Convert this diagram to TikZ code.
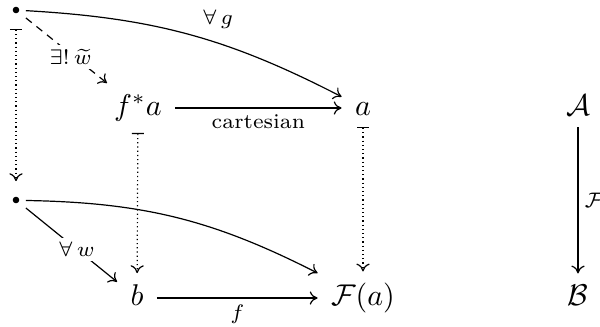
\documentclass[tikz,border=0pt]{standalone}
\usepackage{amsmath}
\usepackage{amssymb}
\usetikzlibrary{arrows.meta,cd}

\begin{document}
\begin{tikzpicture}[
    x=0.3333pt, y=-0.3333pt,
    obj/.style={shape=asymmetrical rectangle, inner xsep=1ex, inner ysep=0.85ex},
    dotnode/.style={fill, inner sep=0pt, minimum size=2.2pt, rounded corners=1.1pt, outer xsep=2.2pt, outer ysep=5.2pt},
    arr/.style={-{Computer Modern Rightarrow[width=4.4pt, length=2.6pt]}},
    mapsto/.style={{Bar[width=4pt]}-{Computer Modern Rightarrow[width=4.4pt, length=2.6pt]}, densely dotted},
    lbl/.style={font=\scriptsize, inner sep=2pt},
    desc/.style={lbl, fill=white, inner sep=1.5pt},
]
\useasboundingbox (0,0) rectangle (600,326);
% objects of the cube
\node[dotnode] (p) at (16,10) {};
\node[dotnode] (q) at (16,200) {};
\node[obj] (fa) at (138,108) {$f^*a$};
\node[obj] (a)  at (363,108) {$a$};
\node[obj] (b)  at (137,298) {$b$};
\node[obj] (Fa) at (363,298) {$\mathcal{F}(a)$};
% the functor
\node[obj] (A) at (578,108) {$\mathcal{A}$};
\node[obj] (B) at (578,298) {$\mathcal{B}$};
% upper face
\draw[arr] (p) to[bend left=12] node[lbl, pos=0.6, above=2.5pt] {$\forall\, g$} (a);
\draw[arr, dash pattern=on 2.5pt off 2pt] (p) -- node[desc, pos=0.55, yshift=-1pt] {$\exists!\,\widetilde{w}$} (fa);
\draw[arr] (fa) -- node[lbl, below] {cartesian} (a);
% lower face
\draw[arr] (q) to[bend left=13] (Fa);
\draw[arr] (q) -- node[desc, pos=0.56] {$\forall\, w$} (b);
\draw[arr] (b) -- node[lbl, below] {$f$} (Fa);
% fibres
\draw[mapsto] (p) -- (q);
\draw[mapsto] (fa) -- (b);
\draw[mapsto] (a) -- (Fa);
\draw[arr] (A) -- node[lbl, right] {$\mathcal{F}$} (B);
\end{tikzpicture}
\end{document}
